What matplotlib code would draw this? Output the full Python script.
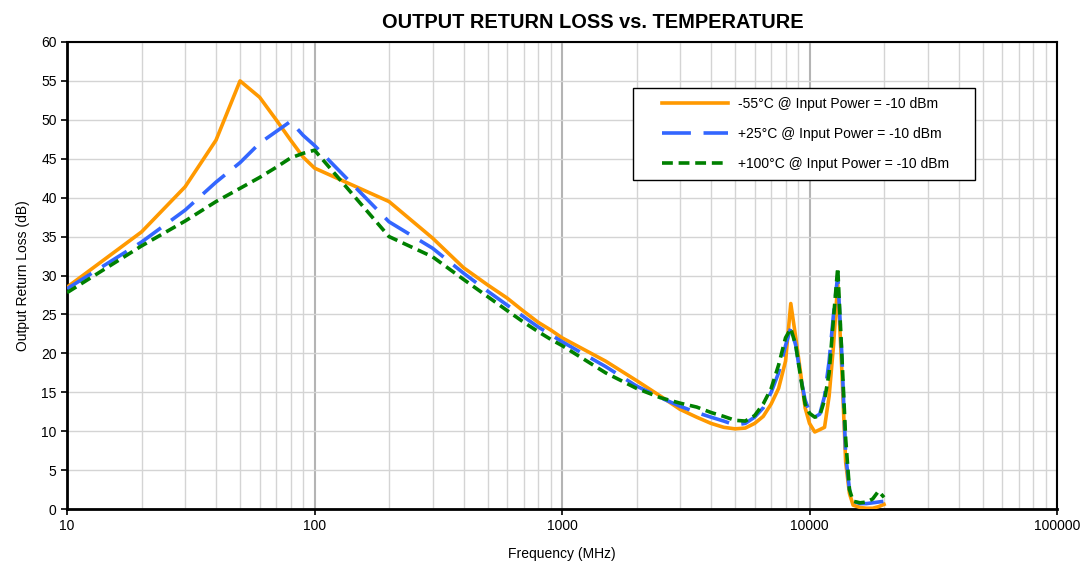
import matplotlib
matplotlib.use('Agg')
import matplotlib.pyplot as plt
from matplotlib.patches import Rectangle
from matplotlib.ticker import FixedLocator, FixedFormatter, LogLocator, NullFormatter

plt.rcParams['font.family'] = ['Liberation Sans', 'DejaVu Sans']

freq = [10, 20, 30, 40, 50, 60, 70, 80, 90, 100, 200, 300, 400, 500, 600, 700, 800, 900,
        1000, 1500, 2000, 2500, 3000, 3500, 4000, 4500, 5000, 5500, 6000, 6500, 7000, 7500,
        8000, 8400, 8800, 9200, 9600, 10000, 10500, 11000, 11500, 12000, 12500, 13000,
        13500, 14000, 14500, 15000, 16000, 17000, 18000, 19000, 20000]

rl_m55 = [28.5, 35.6, 41.4, 47.4, 55.0, 52.9, 50.0, 47.4, 45.2, 43.8, 39.5, 34.8, 31.0, 28.8,
          27.1, 25.4, 24.0, 23.0, 22.0, 19.0, 16.5, 14.5, 12.8, 11.8, 11.0, 10.5, 10.3, 10.4,
          11.0, 11.9, 13.5, 15.5, 19.0, 26.4, 22.0, 17.5, 13.0, 11.0, 9.9, 10.2, 10.5, 14.5,
          21.0, 29.0, 18.0, 6.0, 2.0, 0.5, 0.2, 0.1, 0.1, 0.3, 0.6]

rl_p25 = [28.3, 34.3, 38.4, 42.0, 44.5, 47.0, 48.5, 49.8, 48.0, 46.7, 36.9, 33.5, 30.3, 28.0,
          26.2, 24.7, 23.4, 22.4, 21.5, 18.3, 15.8, 14.3, 13.2, 12.4, 11.8, 11.3, 10.8, 11.0,
          11.8, 13.0, 15.0, 17.5, 21.0, 23.3, 21.0, 17.0, 14.0, 12.5, 11.8, 12.2, 14.5, 19.0,
          25.0, 30.0, 20.0, 7.0, 2.5, 1.0, 0.7, 0.7, 0.8, 0.9, 1.0]

rl_p100 = [27.8, 33.8, 37.0, 39.5, 41.2, 42.6, 43.9, 45.1, 45.7, 46.1, 35.0, 32.4, 29.5, 27.3,
           25.5, 24.0, 22.8, 21.8, 21.0, 17.5, 15.5, 14.3, 13.6, 13.1, 12.4, 11.9, 11.4, 11.3,
           12.0, 13.5, 15.5, 18.5, 22.0, 23.2, 21.0, 17.0, 13.5, 12.3, 11.8, 12.0, 14.0, 17.5,
           24.5, 31.0, 20.0, 9.0, 2.5, 1.0, 0.8, 0.9, 1.3, 2.3, 1.5]

labels = ['-55°C @ Input Power = -10 dBm',
          '+25°C @ Input Power = -10 dBm',
          '+100°C @ Input Power = -10 dBm']

fig = plt.figure(figsize=(10.85, 5.69), dpi=100)
ax = fig.add_axes([0.0618, 0.1054, 0.9124, 0.8208])

ax.plot(freq, rl_m55, color='#FF9900', lw=2.6, label=labels[0], zorder=3)
ax.plot(freq, rl_p25, color='#3366FF', lw=2.6, dashes=(8, 3.5), label=labels[1], zorder=4)
ax.plot(freq, rl_p100, color='#008000', lw=2.6, dashes=(3, 1.6), label=labels[2], zorder=5)

ax.set_xscale('log')
ax.set_xlim(10, 100000)
ax.set_ylim(0, 60)
ax.set_yticks(range(0, 61, 5))
ax.xaxis.set_major_locator(FixedLocator([10, 100, 1000, 10000, 100000]))
ax.xaxis.set_major_formatter(FixedFormatter(['10', '100', '1000', '10000', '100000']))
ax.xaxis.set_minor_locator(LogLocator(base=10, subs=range(2, 10)))
ax.xaxis.set_minor_formatter(NullFormatter())
ax.tick_params(axis='x', which='minor', length=0)
ax.tick_params(axis='both', which='major', direction='out', length=4, width=1.2,
               labelsize=10)

ax.grid(True, which='major', axis='x', color='#B4B4B4', lw=1.5)
ax.grid(True, which='minor', axis='x', color='#D4D4D4', lw=1)
ax.grid(True, which='major', axis='y', color='#D4D4D4', lw=1)
ax.set_axisbelow(True)

for side in ['left', 'bottom']:
    ax.spines[side].set_linewidth(2)
for side in ['top', 'right']:
    ax.spines[side].set_linewidth(1.5)

ax.set_title('OUTPUT RETURN LOSS vs. TEMPERATURE', fontsize=14.4, fontweight='bold',
             pad=10, x=0.531)
ax.set_xlabel('Frequency (MHz)', fontsize=10, labelpad=10)
ax.set_ylabel('Output Return Loss (dB)', fontsize=10, labelpad=8)

# legend box drawn by hand, entries placed inside it
ax.add_patch(Rectangle((0.5717, 0.7045), 0.3453, 0.197, transform=ax.transAxes,
                       facecolor='white', edgecolor='black', lw=1, zorder=6))
leg = ax.legend(loc='upper left', bbox_to_anchor=(0.601, 0.883), fontsize=10,
                handlelength=4.75, labelspacing=1.15, borderpad=0, frameon=False,
                handletextpad=0.72, borderaxespad=0)
leg.set_zorder(7)

fig.savefig('out.png', dpi=100)
